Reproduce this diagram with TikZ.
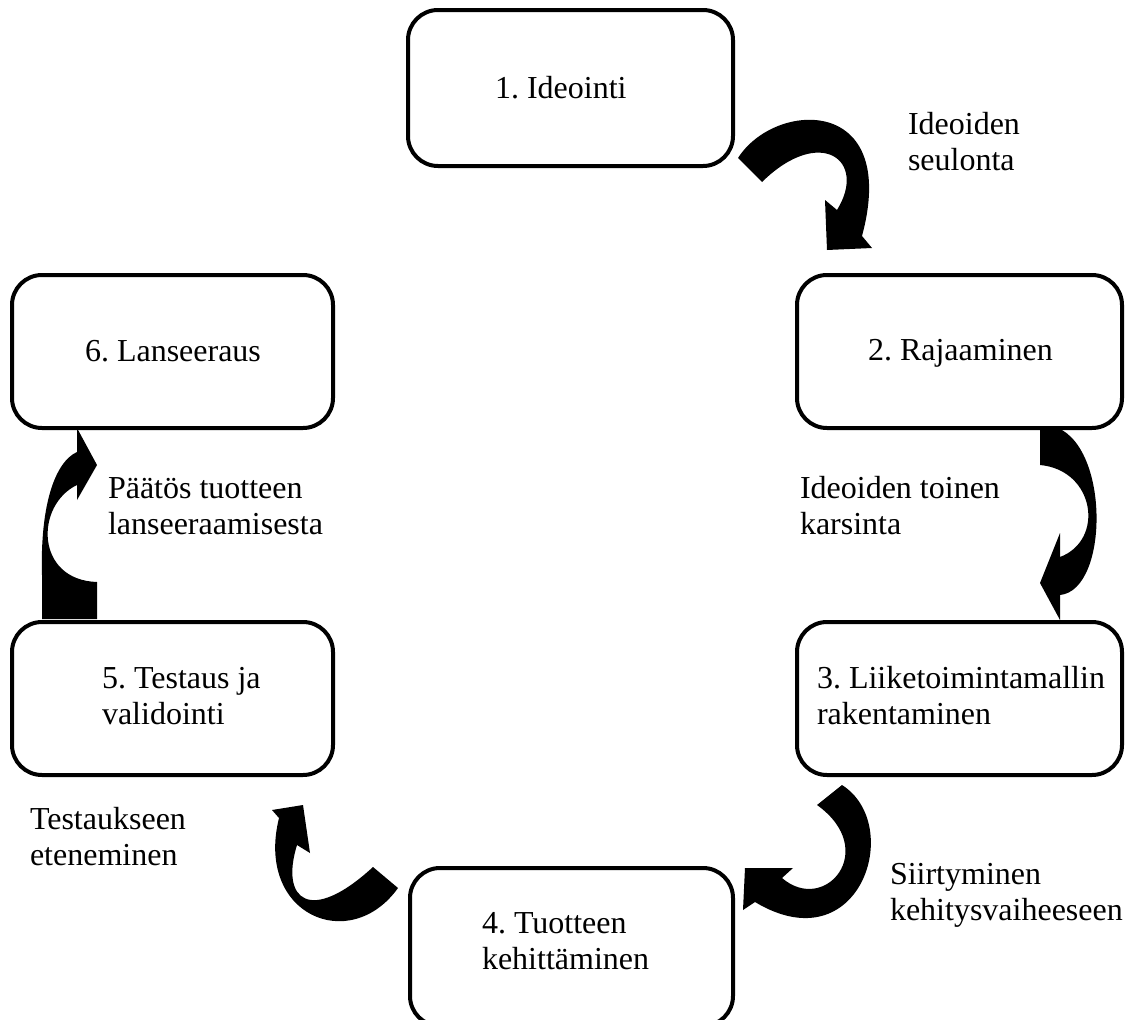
\documentclass[tikz,border=0pt]{standalone}
\usepackage{fontspec}
\setmainfont{Liberation Serif}
\frenchspacing
\begin{document}
\begin{tikzpicture}[x=1pt,y=-1pt,
  stage/.style={draw=black,line width=4pt,rounded corners=30pt,fill=white,
    inner sep=0pt,outer sep=0pt,minimum width=#1},
  stage/.default=325pt,
  txt/.style={anchor=north west,inner sep=0pt,outer sep=0pt,align=left,
    font=\fontsize{32}{36}\selectfont},
  bigarrow/.style={fill=black}]
\useasboundingbox (0,0) rectangle (1133,1020);

% curved block arrows between the stages
\fill[bigarrow] (738,158) .. controls (775,100) and (900,95) .. (862,236)
  -- (872,248) -- (827,250) -- (825,200) -- (837,210)
  .. controls (868,160) and (820,125) .. (762,182) -- cycle;
\fill[bigarrow] (1040,426) -- (1052,426) .. controls (1110,440) and (1110,590) .. (1060,595)
  -- (1060,620) -- (1040,583) -- (1060,533) -- (1060,557)
  .. controls (1105,540) and (1095,470) .. (1040,465) -- cycle;
\fill[bigarrow] (817,805) -- (842,785) .. controls (905,825) and (860,965) .. (755,902)
  -- (743,910) -- (745,868) -- (793,868) -- (782,878)
  .. controls (825,915) and (880,850) .. (817,805) -- cycle;
\fill[bigarrow] (373,867) -- (398,888) .. controls (350,955) and (255,915) .. (279,818)
  -- (272,810) -- (303,805) -- (310,853) -- (297,845)
  .. controls (280,900) and (310,925) .. (373,867) -- cycle;
\fill[bigarrow] (97,619) -- (42,619) -- (42,575) .. controls (40,505) and (55,462) .. (77,452)
  -- (77,428) -- (97,465) -- (77,500) -- (77,485)
  .. controls (35,505) and (35,580) .. (97,582) -- cycle;

% stage boxes
\node[stage, minimum height=156pt] (b1) at (570.5,88) {};
\node[stage, minimum height=153pt] (b2) at (959.5,351.5) {};
\node[stage, minimum height=153pt] (b3) at (959.5,698.5) {};
\node[stage=323pt, minimum height=158pt] (b4) at (571.5,947) {};
\node[stage=321pt, minimum height=153pt] (b5) at (172.5,698.5) {};
\node[stage=321pt, minimum height=153pt] (b6) at (172.5,351.5) {};

% stage texts
\node[txt] (t1) at (495,72.8) {\strut 1. Ideointi};
\node[txt] (t2) at (868,334.8) {\strut 2. Rajaaminen};
\node[txt] (t3) at (817,662.8) {\strut 3. Liiketoimintamallin\\\strut rakentaminen};
\node[txt] (t4) at (482,907.8) {\strut 4. Tuotteen\\\strut kehittäminen};
\node[txt] (t5) at (102,662.8) {\strut 5. Testaus ja\\\strut validointi};
\node[txt] (t6) at (85,335.8) {\strut 6. Lanseeraus};

% transition labels
\node[txt] (l12) at (908,108.8) {\strut Ideoiden\\\strut seulonta};
\node[txt] (l23) at (800,472.8) {\strut Ideoiden toinen\\\strut karsinta};
\node[txt] (l34) at (890,858.8) {\strut Siirtyminen\\\strut kehitysvaiheeseen};
\node[txt] (l45) at (30,803.8) {\strut Testaukseen\\\strut eteneminen};
\node[txt] (l56) at (108,472.8) {\strut Päätös tuotteen\\\strut lanseeraamisesta};
\end{tikzpicture}
\end{document}
